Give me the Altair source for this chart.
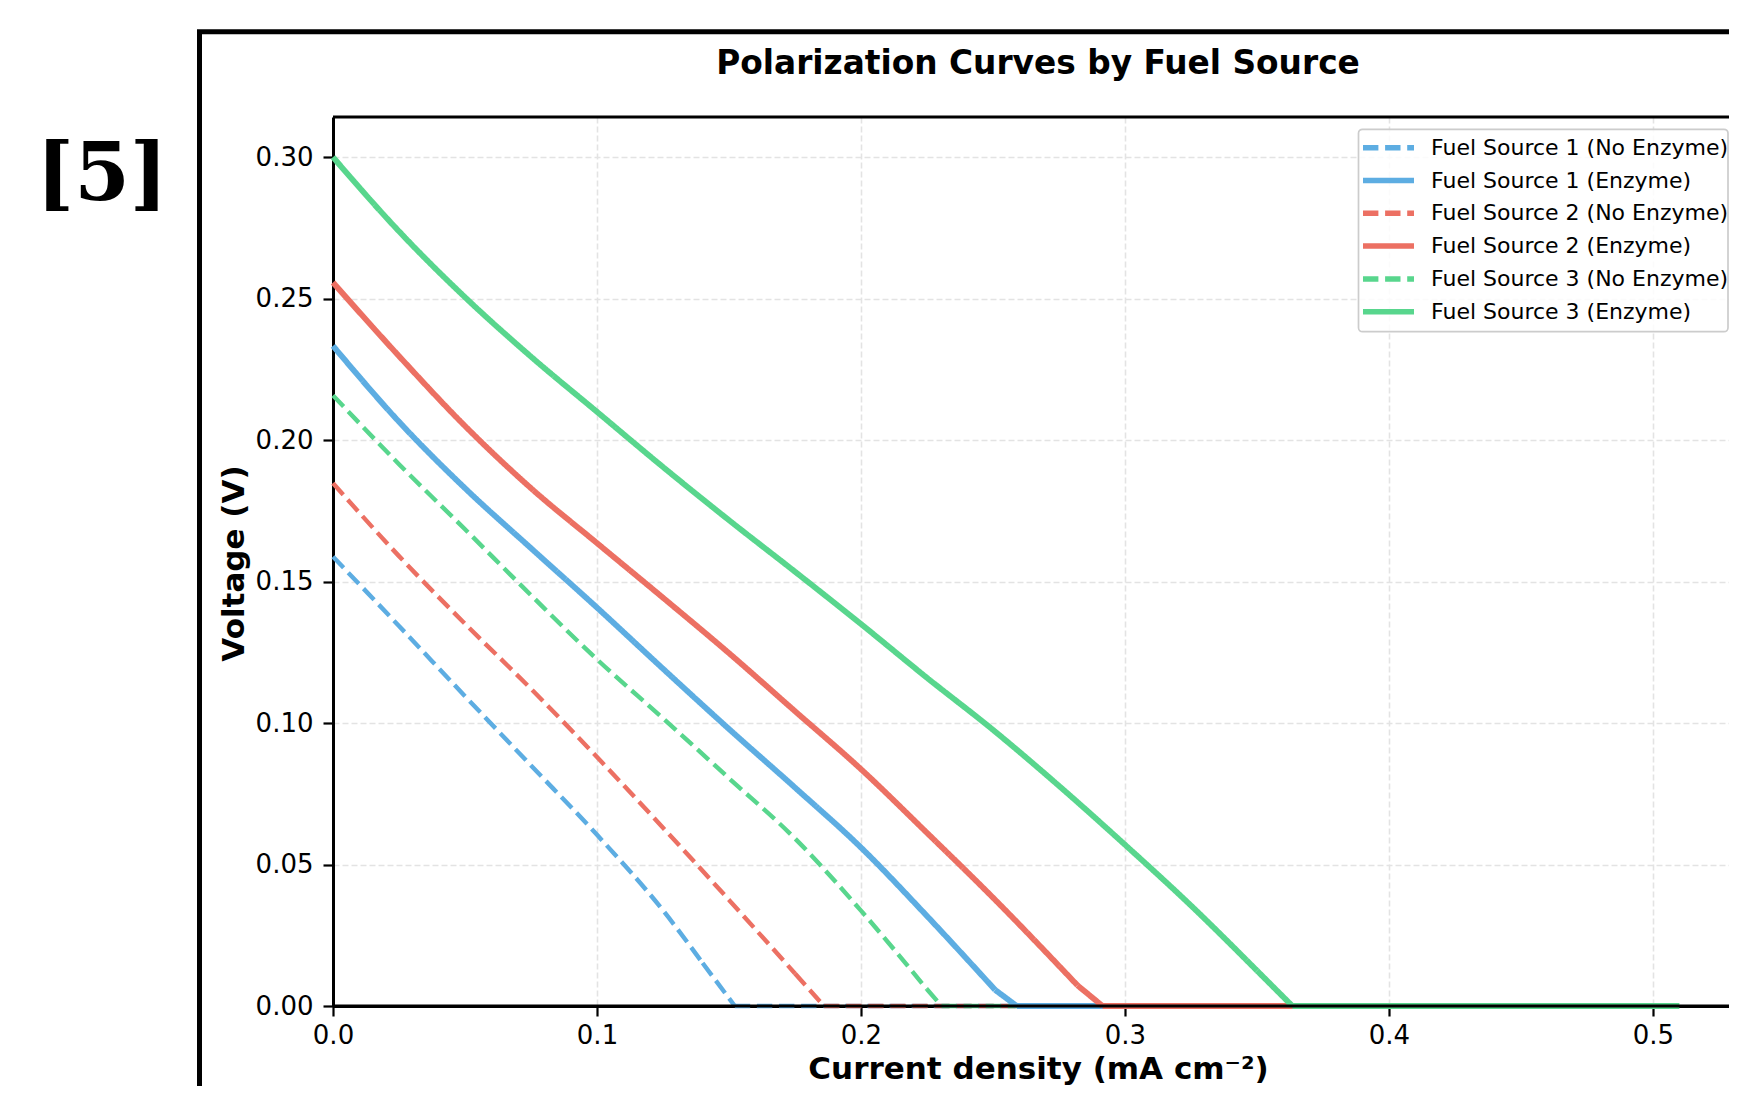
import altair as alt
import pandas as pd

SERIES = [
    "Fuel Source 1 (No Enzyme)",
    "Fuel Source 1 (Enzyme)",
    "Fuel Source 2 (No Enzyme)",
    "Fuel Source 2 (Enzyme)",
    "Fuel Source 3 (No Enzyme)",
    "Fuel Source 3 (Enzyme)",
]
COLORS = ["#5DADE2", "#5DADE2", "#EC7063", "#EC7063", "#58D68D", "#58D68D"]
DASHES = [[15.4, 6.7], [1, 0], [15.4, 6.7], [1, 0], [15.4, 6.7], [1, 0]]

# current density (mA cm^-2) and voltage (V)
fs1_ne_x = [0, 0.025, 0.05, 0.075, 0.1, 0.125, 0.14, 0.1522, 0.30]
fs1_ne_y = [0.1588, 0.1343, 0.1095, 0.085, 0.0605, 0.0338, 0.0152, 0.0, 0.0]
fs1_e_x = [0, 0.025, 0.05, 0.075, 0.1, 0.125, 0.15, 0.175, 0.2, 0.225, 0.2508, 0.259, 0.39]
fs1_e_y = [0.2333, 0.2065, 0.1830, 0.1618, 0.1408, 0.1192, 0.0979, 0.0772, 0.056, 0.0318, 0.0057, 0.0, 0.0]
fs2_ne_x = [0, 0.025, 0.05, 0.075, 0.1, 0.125, 0.15, 0.175, 0.186, 0.34]
fs2_ne_y = [0.1848, 0.1590, 0.1351, 0.1121, 0.088, 0.063, 0.0375, 0.0115, 0.0, 0.0]
fs2_e_x = [0, 0.025, 0.05, 0.075, 0.1, 0.125, 0.15, 0.175, 0.2, 0.225, 0.25, 0.282, 0.2915, 0.434]
fs2_e_y = [0.2557, 0.2297, 0.2050, 0.1830, 0.1636, 0.1443, 0.1247, 0.1042, 0.0837, 0.0612, 0.0383, 0.0073, 0.0, 0.0]
fs3_ne_x = [0, 0.025, 0.05, 0.075, 0.1, 0.125, 0.15, 0.175, 0.2, 0.225, 0.2305, 0.39]
fs3_ne_y = [0.2158, 0.1915, 0.1685, 0.1452, 0.1225, 0.1017, 0.0805, 0.0592, 0.0337, 0.0059, 0.0, 0.0]
fs3_e_x = [0, 0.025, 0.05, 0.075, 0.1, 0.125, 0.15, 0.175, 0.2, 0.225, 0.25, 0.275, 0.3, 0.325, 0.35, 0.3634, 0.51]
fs3_e_y = [0.300, 0.2738, 0.2505, 0.2295, 0.210, 0.1905, 0.1717, 0.1535, 0.135, 0.116, 0.0976, 0.0778, 0.057, 0.0355, 0.0125, 0.0, 0.0]

X_TICKS = [0.0, 0.1, 0.2, 0.3, 0.4, 0.5]
Y_TICKS = [0.0, 0.05, 0.10, 0.15, 0.20, 0.25, 0.30]
X_MAX, Y_MAX = 0.5288, 0.3142

TITLE = "Polarization Curves by Fuel Source"
X_TITLE = "Current density (mA cm\u207b\u00b2)"
Y_TITLE = "Voltage (V)"
PANEL_LABEL = "[5]"

xs = [fs1_ne_x, fs1_e_x, fs2_ne_x, fs2_e_x, fs3_ne_x, fs3_e_x]
ys = [fs1_ne_y, fs1_e_y, fs2_ne_y, fs2_e_y, fs3_ne_y, fs3_e_y]
rows = []
for name, xv, yv in zip(SERIES, xs, ys):
    k = yv.index(0.0)  # first point where the voltage reaches zero
    enz = "No Enzyme" not in name
    for i, (a, b) in enumerate(zip(xv, yv)):
        parts = []
        if i <= k - 1:
            parts.append("falling")
        if k - 1 <= i <= k:
            parts.append("cutoff")
        if i >= k:
            parts.append("flat")
        for p in parts:
            rows.append({"series": name, "part": p, "j": a, "v": b, "enzyme": enz})
df = pd.DataFrame(rows)

W, H = 1396, 889
FONT = "DejaVu Sans"

x_enc = alt.X(
    "j:Q",
    scale=alt.Scale(domain=[0, X_MAX], nice=False, zero=False),
    axis=alt.Axis(
        values=X_TICKS, format=".1f", title=X_TITLE, labelFlush=False,
        labelPadding=6, titleX=705, titleY=72, titleAlign="center",
        titleBaseline="alphabetic", titleAngle=0,
    ),
)
y_enc = alt.Y(
    "v:Q",
    scale=alt.Scale(domain=[0, Y_MAX], nice=False, zero=False),
    axis=alt.Axis(
        values=Y_TICKS, format=".2f", title=Y_TITLE, labelPadding=10,
        titleX=-90, titleY=446, titleAngle=270, titleAlign="center",
        titleBaseline="alphabetic",
    ),
)
color_enc = alt.Color("series:N", scale=alt.Scale(domain=SERIES, range=COLORS), legend=alt.Legend(title=None))
dash_enc = alt.StrokeDash("series:N", scale=alt.Scale(domain=SERIES, range=DASHES), legend=alt.Legend(title=None))

base = alt.Chart(df)
dashed = base.transform_filter("!datum.enzyme").mark_line(strokeWidth=4.4, interpolate="monotone").encode(
    x=x_enc, y=y_enc, color=color_enc, strokeDash=dash_enc, detail=["series:N", "part:N"]
)
solid = base.transform_filter("datum.enzyme").mark_line(strokeWidth=5.8, interpolate="monotone").encode(
    x=x_enc, y=y_enc, color=color_enc, strokeDash=dash_enc, detail=["series:N", "part:N"]
)

spines = alt.Chart(pd.DataFrame({"z": [0]})).mark_rule(color="black", strokeWidth=3)
zero_rule = spines.encode(y=alt.datum(0), x=alt.value(0), x2=alt.value(W))
top_rule = spines.encode(y=alt.datum(Y_MAX), x=alt.value(0), x2=alt.value(W))

one = pd.DataFrame({"t": [TITLE], "p": [PANEL_LABEL]})
frame = alt.Chart(one).mark_rect(filled=False, color="black", strokeWidth=5).encode(
    x=alt.value(-133.5), x2=alt.value(W + 300), y=alt.value(-85.3), y2=alt.value(H + 400)
)
legend_box = alt.Chart(one).mark_rect(
    fill="white", fillOpacity=0.85, stroke="#cccccc", strokeWidth=1.7, cornerRadius=4
).encode(x=alt.value(1025.5), x2=alt.value(1395), y=alt.value(12.3), y2=alt.value(214.7))
title_txt = alt.Chart(one).mark_text(
    font=FONT, fontSize=32.8, fontWeight="bold", color="black", align="center", baseline="alphabetic"
).encode(text="t:N", x=alt.value(705), y=alt.value(-43))
panel_txt = alt.Chart(one).mark_text(
    font="DejaVu Serif", fontSize=80, fontWeight="bold", color="black", align="center", baseline="middle"
).encode(text="p:N", x=alt.value(-231), y=alt.value(59))

chart = (
    alt.layer(frame, title_txt, panel_txt, dashed, solid, zero_rule, top_rule, legend_box)
    .properties(
        width=W, height=H, autosize=alt.AutoSizeParams(type="none"),
        padding={"left": 325, "top": 109, "right": 0, "bottom": 80},
    )
    .configure_view(strokeOpacity=0)
    .configure_axis(
        labelFont=FONT, labelFontSize=26, labelColor="black",
        titleFont=FONT, titleFontSize=31, titleFontWeight="bold", titleColor="black",
        domainColor="black", domainWidth=3, tickColor="black", tickWidth=2.2, tickSize=10,
        gridColor="#e3e3e3", gridWidth=1.6, gridDash=[6, 3], labelOverlap=False,
    )
    .configure_legend(
        orient="none", legendX=1027, legendY=16.7, symbolType="stroke", symbolSize=2601,
        symbolStrokeWidth=5.5, labelFont=FONT, labelFontSize=22, labelColor="black",
        labelLimit=600, labelOffset=14, padding=0, rowPadding=4.8, clipHeight=28,
    )
)

chart.save("out.html", embed_options={"renderer": "svg", "actions": False})
